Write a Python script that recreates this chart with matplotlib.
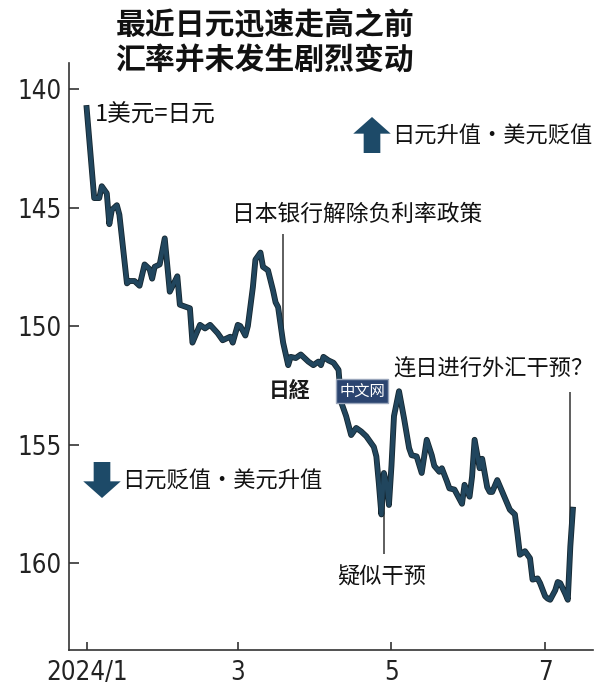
import numpy as np
import pandas as pd
import matplotlib
matplotlib.use("Agg")
import matplotlib.pyplot as plt
import matplotlib.patheffects as pe

plt.rcParams['font.family'] = ['Noto Sans CJK SC', 'DejaVu Sans']

# USD/JPY (yen per dollar)
dates = ["01-01", "01-04", "01-06", "01-07", "01-09", "01-10", "01-11", "01-13",
         "01-14", "01-17", "01-18", "01-20", "01-22", "01-24", "01-26", "01-27",
         "01-28", "01-30", "02-01", "02-03", "02-06", "02-07", "02-11", "02-12",
         "02-15", "02-17", "02-19", "02-22", "02-24", "02-27", "02-28", "03-01",
         "03-02", "03-04", "03-05", "03-07", "03-08", "03-10", "03-11", "03-13",
         "03-15", "03-16", "03-17", "03-19", "03-21", "03-22", "03-24", "03-26",
         "03-28", "03-29", "03-31", "04-02", "04-03", "04-04", "04-06", "04-08",
         "04-10", "04-11", "04-13", "04-15", "04-17", "04-19", "04-21", "04-24",
         "04-25", "04-26", "04-27", "04-28", "04-29", "04-30", "05-01", "05-02",
         "05-04", "05-06", "05-08", "05-09", "05-11", "05-13", "05-15", "05-17",
         "05-18", "05-20", "05-21", "05-23", "05-24", "05-26", "05-29", "05-30",
         "06-01", "06-02", "06-03", "06-05", "06-06", "06-08", "06-09", "06-10",
         "06-12", "06-14", "06-16", "06-17", "06-19", "06-20", "06-21", "06-23",
         "06-25", "06-26", "06-28", "06-29", "07-01", "07-02", "07-03", "07-05",
         "07-06", "07-07", "07-09", "07-10", "07-11", "07-12"]
rate = [140.8, 144.6, 144.6, 144.1, 144.4, 145.7, 145.1, 144.9,
        145.3, 148.2, 148.1, 148.1, 148.3, 147.4, 147.6, 148.0,
        147.5, 147.4, 146.3, 148.55, 147.9, 149.1, 149.25, 150.7,
        149.95, 150.1, 149.95, 150.3, 150.6, 150.45, 150.7, 149.95,
        150.0, 150.4, 150.0, 148.35, 147.2, 146.9, 147.5, 147.65,
        148.5, 149.0, 149.2, 150.7, 151.65, 151.3, 151.35, 151.2,
        151.4, 151.5, 151.65, 151.5, 151.65, 151.3, 151.45, 151.55,
        151.85, 153.2, 153.8, 154.6, 154.3, 154.45, 154.65, 155.1,
        155.5, 156.65, 157.95, 156.2, 156.65, 157.55, 155.9, 153.8,
        152.75, 153.9, 155.15, 155.45, 155.5, 156.2, 154.8, 155.45,
        155.9, 156.15, 156.0, 156.55, 156.85, 156.9, 157.5, 156.7,
        157.2, 156.35, 154.8, 156.0, 155.6, 156.8, 157.0, 157.0,
        156.5, 157.0, 157.5, 157.75, 157.95, 158.75, 159.65, 159.5,
        159.8, 160.7, 160.65, 160.85, 161.4, 161.5, 161.55, 161.15,
        160.8, 160.85, 161.3, 161.55, 159.3, 157.75]

tick_dates = ["2024-01-01", "2024-03-01", "2024-05-01", "2024-07-01"]
tick_labels = ["2024/1", "3", "5", "7"]
y_ticks = [140, 145, 150, 155, 160]

x = pd.to_datetime(["2024-" + d for d in dates])

W, H = 600, 700
fig = plt.figure(figsize=(6, 7), dpi=100)
ax = fig.add_axes([69 / W, 1 - 650 / H, (593 - 69) / W, (650 - 63) / H])

line_col = '#21465e'
ax.plot(x, rate, color=line_col, lw=3.0, solid_joinstyle='round',
        path_effects=[pe.Stroke(linewidth=4.2, foreground='#15262f'), pe.Normal()], zorder=3)

ax.set_xlim(pd.Timestamp("2023-12-25"), pd.Timestamp("2024-07-20"))
ax.set_ylim(163.67, 138.9)

for s in ['top', 'right']:
    ax.spines[s].set_visible(False)
for s in ['left', 'bottom']:
    ax.spines[s].set_color('#333333')
    ax.spines[s].set_linewidth(1.2)

num_font = dict(family=['DejaVu Sans'], fontstretch='condensed', fontsize=18.5,
                color='#222222')
ax.set_yticks(y_ticks)
ax.set_yticklabels([str(v) for v in y_ticks], **num_font)
ax.set_xticks(pd.to_datetime(tick_dates))
ax.set_xticklabels(tick_labels, **num_font)
ax.tick_params(axis='y', direction='in', length=7, width=1.2, color='#333333', pad=5)
ax.tick_params(axis='x', direction='in', length=6, width=1.2, color='#333333', pad=7)

# annotation lines
ax.vlines(pd.Timestamp("2024-03-19"), 146.1, 150.5, color='#333333', lw=1.1, zorder=2)
ax.vlines(pd.Timestamp("2024-04-28"), 157.3, 159.6, color='#333333', lw=1.1, zorder=2)
ax.vlines(pd.Timestamp("2024-07-11"), 152.8, 159.3, color='#333333', lw=1.1, zorder=2)


def fp(px, py):
    return px / W, 1 - py / H


txt = '#111111'
fig.text(*fp(265, 24), "最近日元迅速走高之前", ha='center', va='center',
         fontsize=21.5, fontweight='bold', color='#111111')
fig.text(*fp(265, 60), "汇率并未发生剧烈变动", ha='center', va='center',
         fontsize=21.5, fontweight='bold', color='#111111')

fig.text(*fp(95, 115), "1美元=日元", ha='left', va='center', fontsize=17, color=txt)
fig.text(*fp(392, 136), "日元升值・美元贬值", ha='left', va='center', fontsize=16, color=txt)
fig.text(*fp(232, 214), "日本银行解除负利率政策", ha='left', va='center', fontsize=16.4, color=txt)
fig.text(*fp(393, 369), "连日进行外汇干预？", ha='left', va='center', fontsize=16, color=txt)
fig.text(*fp(337, 577), "疑似干预", ha='left', va='center', fontsize=16, color=txt)
fig.text(*fp(122, 481), "日元贬值・美元升值", ha='left', va='center', fontsize=16, color=txt)

# block arrows
arrow_col = '#1d4a68'
arr = dict(arrowstyle='simple,head_length=0.6,head_width=1.35,tail_width=0.6',
           color=arrow_col, lw=0, mutation_scale=20, shrinkA=0, shrinkB=0)
ax.annotate('', xy=fp(372, 117), xytext=fp(372, 153), xycoords='figure fraction',
            textcoords='figure fraction', arrowprops=arr)
ax.annotate('', xy=fp(102, 498), xytext=fp(102, 462), xycoords='figure fraction',
            textcoords='figure fraction', arrowprops=arr)

# watermark
fig.text(*fp(290, 390), "日経", ha='center', va='center', fontsize=15,
         fontweight='black', color='#1a1a1a', zorder=5)
fig.text(*fp(362, 391), "中文网", ha='center', va='center', fontsize=11, color='white',
         zorder=5, bbox=dict(boxstyle='square,pad=0.2', fc='#2b4470', ec='#9aa6bb', lw=1))

fig.savefig("out.png", dpi=100)
